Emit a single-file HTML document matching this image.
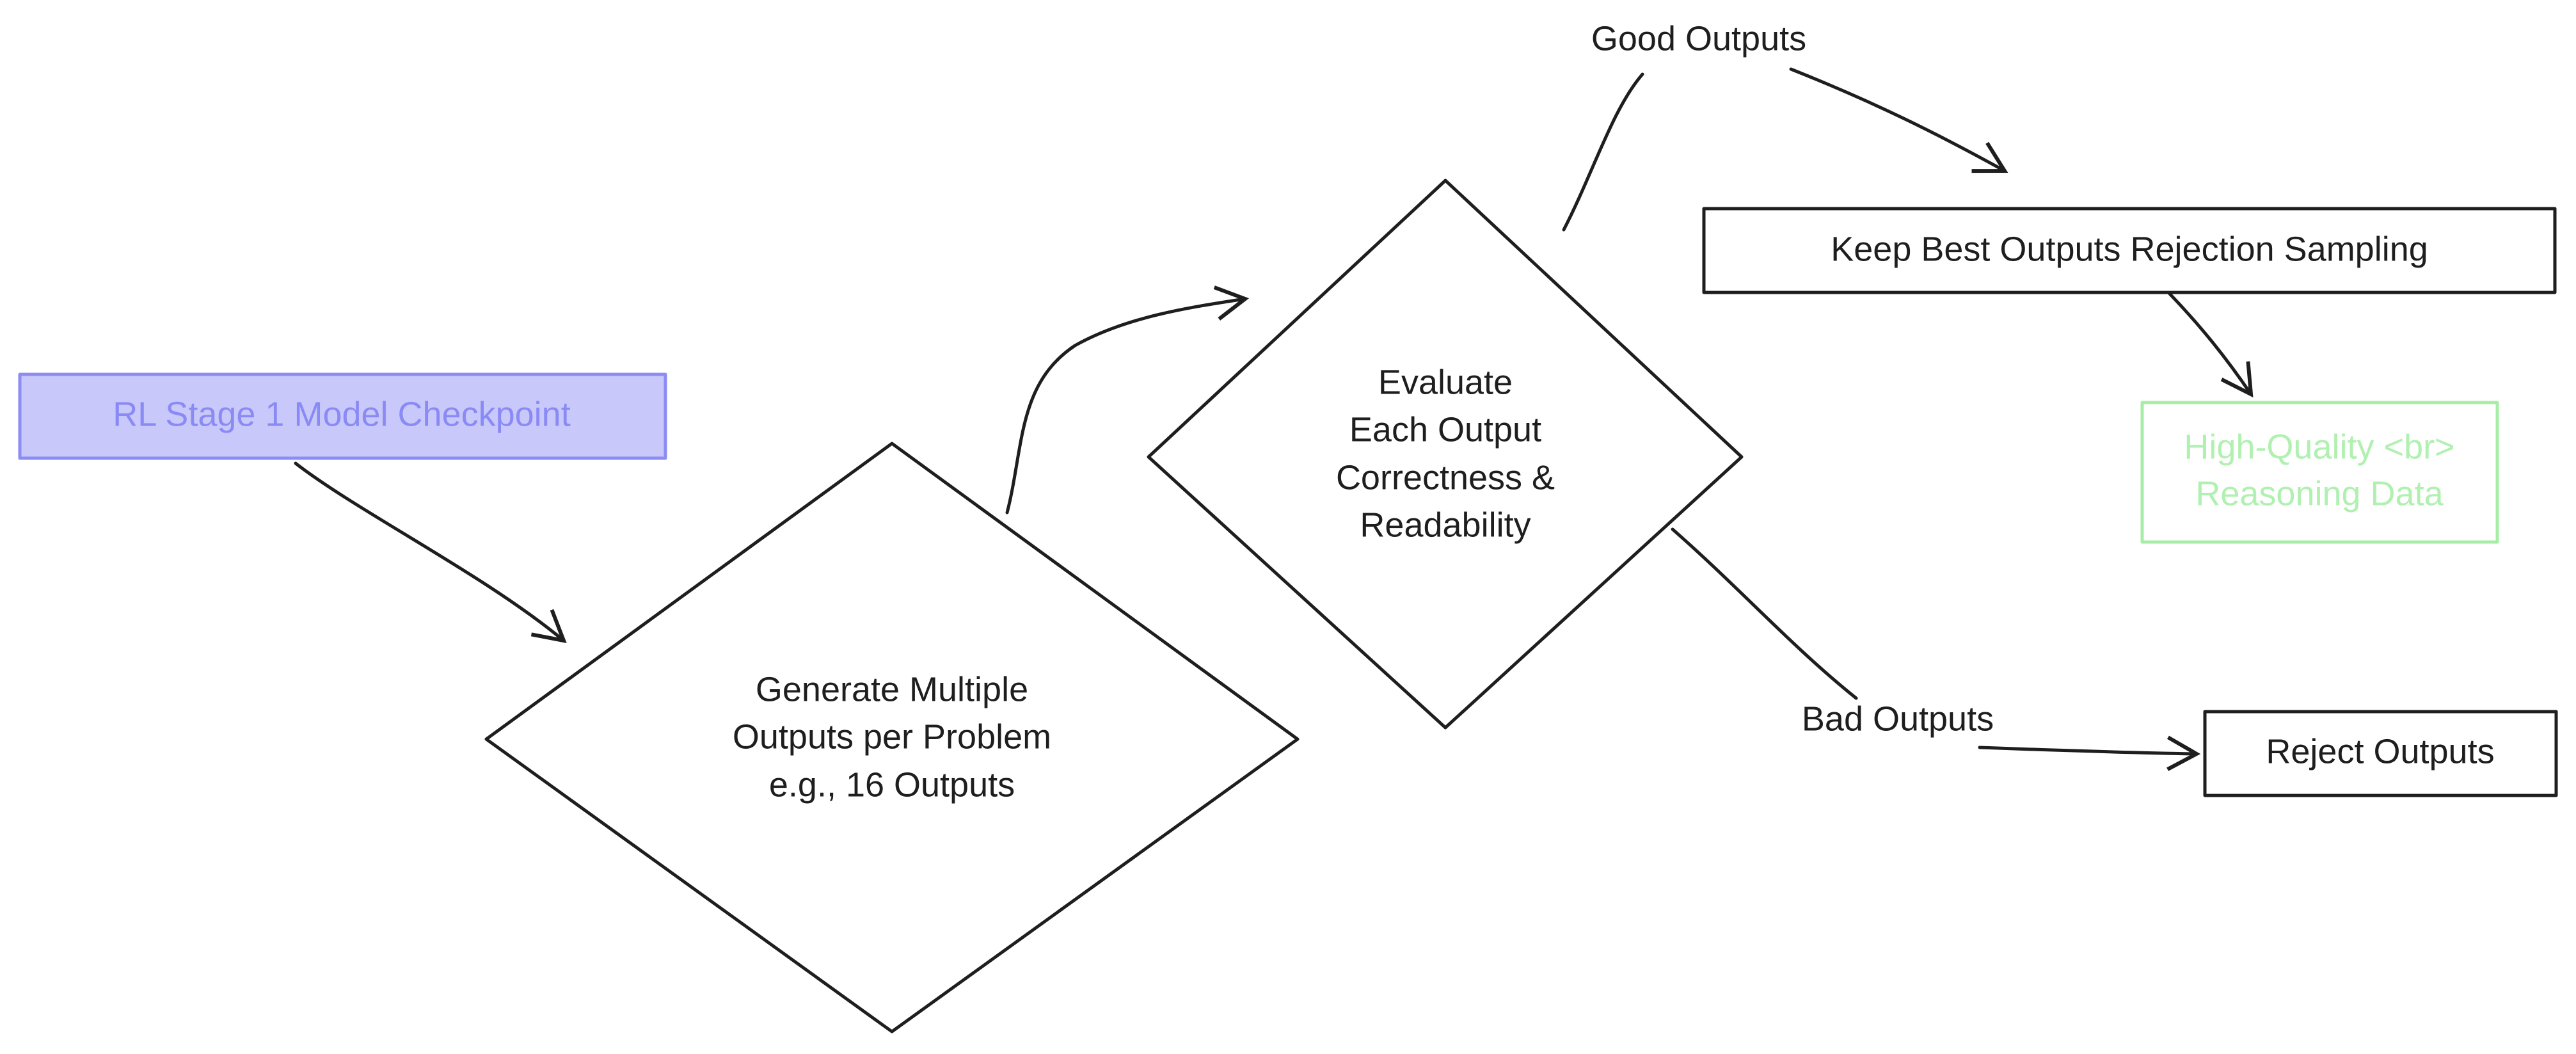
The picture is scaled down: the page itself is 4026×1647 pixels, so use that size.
<!DOCTYPE html>
<html><head><meta charset="utf-8"><style>
html,body{margin:0;padding:0;background:#fff;}
svg{display:block;}
text{font-family:"Liberation Sans",sans-serif;font-size:54px;text-anchor:middle;dominant-baseline:middle;}
</style></head><body>
<svg width="4026" height="1647" viewBox="0 0 4026 1647" xmlns="http://www.w3.org/2000/svg">
<defs>
<marker id="ah" markerWidth="12" markerHeight="12" refX="10" refY="6" orient="auto" markerUnits="strokeWidth">
<path d="M1,1 L10,6 L1,11" fill="none" stroke="#1e1e1e" stroke-width="1.2"/>
</marker>
</defs>
<g fill="none" stroke="#1e1e1e" stroke-width="5" stroke-linecap="round" stroke-linejoin="round">
<!-- blue box -->
<rect x="31" y="585" width="1009" height="131" fill="#c8c8fa" stroke="#8c8cf2"/>
<!-- diamond 1 -->
<polygon points="760,1155 1394,693 2028,1155 1394,1612" fill="#fff"/>
<!-- diamond 2 -->
<polygon points="1795,714 2259,282 2722,714 2259,1137" fill="#fff"/>
<!-- boxes -->
<rect x="2663" y="326" width="1330" height="131"/>
<rect x="3348" y="629" width="555" height="218" stroke="#a6eea6" fill="#fff"/>
<rect x="3446" y="1112" width="549" height="131"/>
<!-- connectors -->
<path d="M462,724 C560,800 760,900 881,1001" marker-end="url(#ah)"/>
<path d="M1574,801 C1600,700 1590,600 1680,540 C1760,495 1860,480 1946,467" marker-end="url(#ah)"/>
<path d="M2444,359 C2490,270 2520,170 2567,116"/>
<path d="M2799,108 C2930,160 3030,210 3133,267" marker-end="url(#ah)"/>
<path d="M3389,457 C3440,510 3480,560 3518,616" marker-end="url(#ah)"/>
<path d="M2614,827 C2720,920 2800,1010 2901,1091"/>
<path d="M3094,1168 C3200,1172 3320,1176 3433,1178" marker-end="url(#ah)"/>
</g>
<g fill="#1e1e1e" stroke="none">
<text x="534" y="651" fill="#8a8af5">RL Stage 1 Model Checkpoint</text>
<text x="1394" y="1081">Generate Multiple</text>
<text x="1394" y="1155">Outputs per Problem</text>
<text x="1394" y="1230">e.g., 16 Outputs</text>
<text x="2259" y="601">Evaluate</text>
<text x="2259" y="675">Each Output</text>
<text x="2259" y="750">Correctness &amp;</text>
<text x="2259" y="824">Readability</text>
<text x="2655" y="64">Good Outputs</text>
<text x="3328" y="393">Keep Best Outputs Rejection Sampling</text>
<text x="3625" y="702" fill="#b0f0b0">High-Quality &lt;br&gt;</text>
<text x="3625" y="775" fill="#b0f0b0">Reasoning Data</text>
<text x="2966" y="1127">Bad Outputs</text>
<text x="3720" y="1178">Reject Outputs</text>
</g>
</svg>
</body></html>
